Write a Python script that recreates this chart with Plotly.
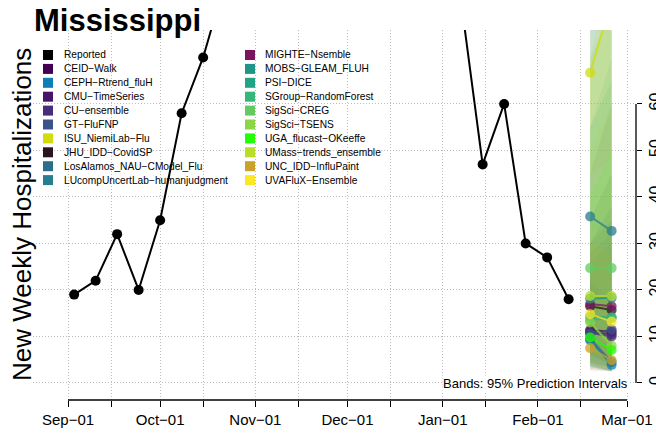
import plotly.graph_objects as go

# reported weekly hospitalizations (values above ~76 run off the top of the panel)
report_dates = [
    "2023-09-03", "2023-09-10", "2023-09-17", "2023-09-24", "2023-10-01", "2023-10-08",
    "2023-10-15", "2023-10-22", "2023-10-29", "2023-11-05", "2023-11-12", "2023-11-19",
    "2023-11-26", "2023-12-03", "2023-12-10", "2023-12-17", "2023-12-24", "2023-12-31",
    "2024-01-07", "2024-01-14", "2024-01-21", "2024-01-28", "2024-02-04", "2024-02-11",
]
report_values = [19, 22, 32, 20, 35, 58, 70, 86, 104, 118, 131, 149,
                 172, 196, 231, 264, 285, 197, 82, 47, 60, 30, 27, 18]

forecast_dates = ["2024-02-18", "2024-02-25"]

models = [
    "CEID\u2212Walk", "CEPH\u2212Rtrend_fluH", "CMU\u2212TimeSeries", "CU\u2212ensemble",
    "GT\u2212FluFNP", "ISU_NiemiLab\u2212Flu", "JHU_IDD\u2212CovidSP",
    "LosAlamos_NAU\u2212CModel_Flu", "LUcompUncertLab\u2212humanjudgment",
    "MIGHTE\u2212Nsemble", "MOBS\u2212GLEAM_FLUH", "PSI\u2212DICE", "SGroup\u2212RandomForest",
    "SigSci\u2212CREG", "SigSci\u2212TSENS", "UGA_flucast\u2212OKeeffe",
    "UMass\u2212trends_ensemble", "UNC_IDD\u2212InfluPaint", "UVAFluX\u2212Ensemble",
]
model_colors = [
    "#440154", "#0C7FB8", "#481467", "#472D7B", "#3B528B", "#D2DB0C", "#2C1320",
    "#2C6E8E", "#287D8E", "#7B1560", "#1E9587", "#20A486", "#35B779", "#62CB5F",
    "#8BD646", "#22FF00", "#B8DE29", "#C9A227", "#FDE725",
]

median_h1 = [11.4, 9.2, 11.0, 10.8, 10.5, 66.7, 16.5, 9.5, 35.8, 17.0, 18.1, 14.3,
             13.5, 24.7, 13.0, 9.8, 18.7, 7.5, 14.8]
median_h2 = [11.0, 3.9, 10.5, 10.0, 11.5, 82.5, 15.7, 4.5, 32.7, 16.5, 18.3, 14.0,
             14.1, 24.7, 8.0, 7.1, 18.7, 4.9, 13.2]
lower_h1 = [3.0, 3.5, 4.0, 4.5, 4.0, 45.0, 6.0, 3.5, 20.0, 6.0, 6.0, 5.0,
            5.0, 10.0, 4.0, 3.5, 6.0, 2.5, 4.0]
lower_h2 = [2.5, 2.5, 2.5, 3.0, 3.5, 48.0, 4.0, 2.5, 14.0, 5.0, 4.0, 3.5,
            4.0, 8.0, 2.5, 2.5, 5.0, 2.5, 3.0]
upper_h1 = [30, 22, 28, 30, 26, 95, 35, 22, 80, 45, 85, 55,
            55, 70, 50, 40, 70, 30, 65]
upper_h2 = [38, 16, 32, 35, 30, 150, 45, 18, 95, 60, 100, 65,
            70, 80, 60, 50, 90, 28, 85]

month_ticks = ["2023-09-01", "2023-09-15", "2023-10-01", "2023-10-15", "2023-11-01",
               "2023-11-15", "2023-12-01", "2023-12-15", "2024-01-01", "2024-01-15",
               "2024-02-01", "2024-02-15", "2024-03-01"]
month_labels = ["Sep\u221201", "", "Oct\u221201", "", "Nov\u221201", "", "Dec\u221201", "",
                "Jan\u221201", "", "Feb\u221201", "", "Mar\u221201"]
y_ticks = [0, 10, 20, 30, 40, 50, 60]

FONT = "Liberation Sans, Arial, sans-serif"
PLOT_L, PLOT_R, PLOT_T, PLOT_B = 33, 636, 30, 400


def px_x(px):
    return (px - PLOT_L) / (PLOT_R - PLOT_L)


def px_y(py):
    return (PLOT_B - py) / (PLOT_B - PLOT_T)


def rgba(hex_col, a):
    h = hex_col.lstrip("#")
    r, g, b = int(h[0:2], 16), int(h[2:4], 16), int(h[4:6], 16)
    return f"rgba({r},{g},{b},{a})"


fig = go.Figure()

# prediction interval bands
for i, m in enumerate(models):
    fig.add_trace(go.Scatter(
        x=forecast_dates + forecast_dates[::-1],
        y=[lower_h1[i], lower_h2[i], upper_h2[i], upper_h1[i]],
        fill="toself", fillcolor=rgba(model_colors[i], 0.12),
        line=dict(width=0), mode="lines", hoverinfo="skip", showlegend=False,
    ))

fig.add_trace(go.Scatter(
    x=report_dates, y=report_values, mode="lines+markers",
    line=dict(color="black", width=2), marker=dict(color="black", size=10),
    showlegend=False,
))

for i, m in enumerate(models):
    fig.add_trace(go.Scatter(
        x=forecast_dates, y=[median_h1[i], median_h2[i]], mode="lines+markers",
        line=dict(color=model_colors[i], width=2),
        marker=dict(color=model_colors[i], size=10),
        opacity=0.75, name=m, showlegend=False,
    ))

shapes = []
# axis lines drawn only over the labelled span, like the original
shapes.append(dict(type="line", xref="x", yref="paper", x0=month_ticks[0], x1=month_ticks[-1],
                   y0=0, y1=0, line=dict(color="black", width=1.3)))
shapes.append(dict(type="line", xref="paper", yref="y", x0=1, x1=1, y0=0, y1=60,
                   line=dict(color="black", width=1.3)))

annotations = []
legend_names = ["Reported"] + models
legend_colors = ["#000000"] + model_colors
for k, (name, col) in enumerate(zip(legend_names, legend_colors)):
    c = k // 10
    r = k % 10
    sq_x = 48 if c == 0 else 250
    tx = 62 if c == 0 else 263
    yy = 55 + r * 13.9
    shapes.append(dict(type="rect", xref="paper", yref="paper",
                       x0=px_x(sq_x - 5), x1=px_x(sq_x + 5), y0=px_y(yy + 5), y1=px_y(yy - 5),
                       fillcolor=col, line=dict(width=0)))
    annotations.append(dict(text=name, xref="paper", yref="paper", x=px_x(tx), y=px_y(yy),
                            xanchor="left", yanchor="middle", showarrow=False,
                            font=dict(size=10.2, color="black", family=FONT)))

annotations.append(dict(text="New Weekly Hospitalizations", textangle=-90, xref="paper", yref="paper",
                        x=px_x(22), y=px_y(215), xanchor="center", yanchor="middle",
                        showarrow=False, font=dict(size=26, color="black", family=FONT)))
annotations.append(dict(text="Bands: 95% Prediction Intervals", xref="paper", yref="paper",
                        x=px_x(629), y=px_y(383), xanchor="right", yanchor="middle",
                        showarrow=False, bgcolor="white", borderpad=0,
                        font=dict(size=13, color="black", family=FONT)))

fig.update_layout(
    width=656, height=436,
    template="none",
    plot_bgcolor="white", paper_bgcolor="white",
    margin=dict(l=PLOT_L, r=656 - PLOT_R, t=PLOT_T, b=436 - PLOT_B),
    title=dict(text="<b>Mississippi</b>", x=34 / 656, y=1 - 20 / 436,
               xanchor="left", yanchor="middle", xref="container",
               font=dict(size=31, color="black", family=FONT)),
    showlegend=False,
    shapes=shapes,
    annotations=annotations,
    xaxis=dict(
        type="date", range=["2023-08-20 14:31", "2024-03-03 22:19"],
        tickvals=month_ticks, ticktext=month_labels,
        ticks="outside", ticklen=6, tickwidth=1.3, tickcolor="black",
        showline=False, zeroline=False,
        showgrid=True, gridcolor="#bdbdbd", griddash="1px,2px", gridwidth=1,
        tickfont=dict(size=15, color="black", family=FONT),
    ),
    yaxis=dict(
        range=[-3.66, 75.9], side="right",
        tickvals=y_ticks, ticks="outside", ticklen=5, tickwidth=1.3, tickcolor="black",
        tickangle=-90, ticklabeloverflow="allow",
        showline=False, zeroline=False,
        showgrid=True, gridcolor="#bdbdbd", griddash="1px,2px", gridwidth=1,
        tickfont=dict(size=16, color="black", family=FONT),
    ),
)

# the page's default body margin would shift the figure by 8px
fig.write_html("out.html", config={"displayModeBar": False},
               post_script="document.body.style.margin='0';")
